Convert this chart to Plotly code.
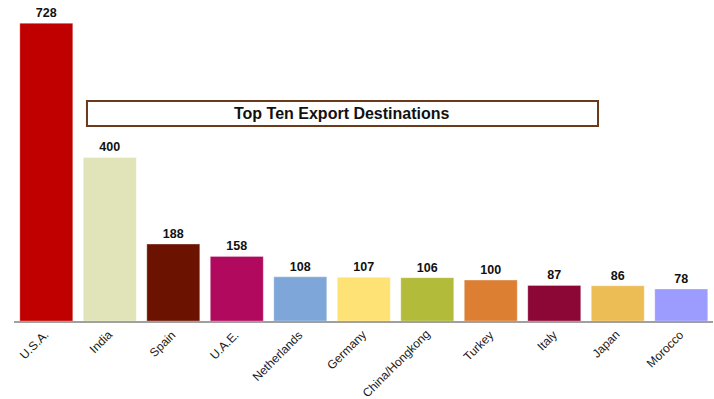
import plotly.graph_objects as go

countries = ["U.S.A.", "India", "Spain", "U.A.E.", "Netherlands", "Germany",
             "China/Hongkong", "Turkey", "Italy", "Japan", "Morocco"]
values = [728, 400, 188, 158, 108, 107, 106, 100, 87, 86, 78]
colors = ["#C00000", "#E1E4B8", "#6C1200", "#B0095E", "#7FA6D8", "#FFE275",
          "#B3BB3A", "#DC7F33", "#8C0636", "#EDBD55", "#9C9CFF"]
title_text = "Top Ten Export Destinations"

fig = go.Figure(go.Bar(
    x=countries, y=values,
    marker=dict(color=colors, line=dict(color="rgba(255,255,255,0.6)", width=0.5)),
    text=[str(v) for v in values], textposition="outside",
    textfont=dict(family="Arial, Liberation Sans", size=12.5, color="#111111", weight="bold"),
    cliponaxis=False,
))

label_font = dict(family="Arial, Liberation Sans", size=12, color="#1a1a1a")
annotations = [dict(text=title_text, xref="paper", yref="paper",
                    x=(0.1044 + 0.8355) / 2, y=(0.6075 + 0.685) / 2,
                    showarrow=False, xanchor="center", yanchor="middle",
                    font=dict(family="Arial, Liberation Sans", size=16, color="#111111", weight="bold"))]
for c in countries:
    annotations.append(dict(text=c, x=c, y=0, xref="x", yref="y", showarrow=False,
                            textangle=-45, xanchor="right", yanchor="top",
                            xshift=8, yshift=-4, font=label_font))

fig.update_layout(
    width=714, height=399,
    margin=dict(l=14, r=1, t=0, b=78),
    paper_bgcolor="white", plot_bgcolor="white",
    bargap=0.166,
    showlegend=False,
    xaxis=dict(showline=True, linecolor="#A0A0A0", linewidth=1.5,
               showticklabels=False, ticks="", showgrid=False, automargin=False),
    yaxis=dict(range=[0, 785], visible=False, showgrid=False, automargin=False),
    shapes=[dict(type="rect", xref="paper", yref="paper",
                 x0=0.1044, x1=0.8355, y0=0.6075, y1=0.685,
                 line=dict(color="#6B3A1A", width=2), fillcolor="white")],
    annotations=annotations,
)

fig.write_html("out.html")
